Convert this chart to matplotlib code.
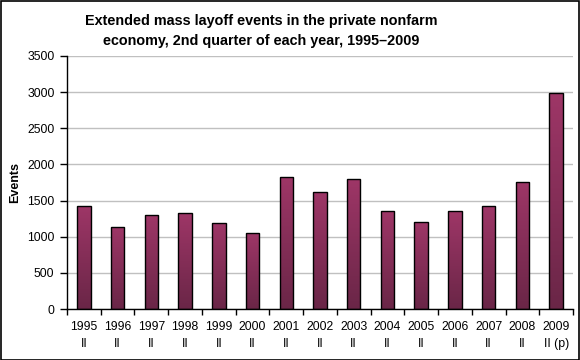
import matplotlib
matplotlib.use("Agg")
import matplotlib.pyplot as plt
import numpy as np
from matplotlib.patches import Rectangle
from matplotlib.colors import LinearSegmentedColormap

years = ["1995", "1996", "1997", "1998", "1999", "2000", "2001", "2002",
         "2003", "2004", "2005", "2006", "2007", "2008", "2009"]
quarters = ["II"] * 14 + ["II (p)"]
events = [1426, 1140, 1297, 1325, 1183, 1048, 1832, 1620, 1796, 1354, 1201, 1353, 1421, 1757, 2983]
yticks = [0, 500, 1000, 1500, 2000, 2500, 3000, 3500]

plt.rcParams['font.family'] = ['Liberation Sans', 'DejaVu Sans']

fig = plt.figure(figsize=(5.8, 3.6), dpi=100)
ax = fig.add_axes([67/580, 1-309/360, (573-67)/580, (309-56)/360])

x = np.arange(len(years))
bars = ax.bar(x, events, width=0.4, color='none', edgecolor='black', linewidth=1.0, zorder=3)

cmap = LinearSegmentedColormap.from_list('g', ['#6a2647', '#9e3667'])
grad = np.linspace(0, 1, 256).reshape(-1, 1)
for b in bars:
    bx, by, bw, bh = b.get_x(), b.get_y(), b.get_width(), b.get_height()
    im = ax.imshow(grad, cmap=cmap, origin='lower', aspect='auto',
                   extent=[bx, bx + bw, by, by + bh], zorder=2)
    im.set_clip_path(b)

ax.set_xlim(-0.5, len(years) - 0.5)
ax.set_ylim(0, 3500)
ax.set_yticks(yticks)
ax.set_yticklabels([str(v) for v in yticks], fontsize=8.8)
ax.yaxis.grid(True, color='#c0c0c0', linewidth=1.0, zorder=0)
ax.set_axisbelow(True)

ax.set_xticks(x)
ax.set_xticklabels([f"{y}\n{q}" for y, q in zip(years, quarters)], fontsize=8.8, linespacing=1.5)
ax.set_xticks(np.arange(-0.5, len(years)), minor=True)
ax.tick_params(axis='x', which='major', length=0, pad=9)
ax.tick_params(axis='x', which='minor', length=4, width=1, direction='out')
ax.tick_params(axis='y', length=5, width=1, direction='out', pad=4)

for s in ['top', 'right']:
    ax.spines[s].set_visible(False)
ax.spines['left'].set_linewidth(1)
ax.spines['bottom'].set_linewidth(1)

ax.set_ylabel("Events", fontsize=9, fontweight='bold', va='center')
ax.yaxis.set_label_coords((15 - 67) / 506, 0.5)

fig.text(261/580, 1 - 31/360, "Extended mass layoff events in the private nonfarm\neconomy, 2nd quarter of each year, 1995\u20132009",
         ha='center', va='center', fontsize=10.4, fontweight='bold', linespacing=1.6)

fig.patches.append(Rectangle((0.5/580, 0.5/360), 1 - 1.5/580, 1 - 1.5/360, transform=fig.transFigure,
                             fill=False, edgecolor='black', linewidth=1.2))

fig.savefig("out.png", dpi=100)
